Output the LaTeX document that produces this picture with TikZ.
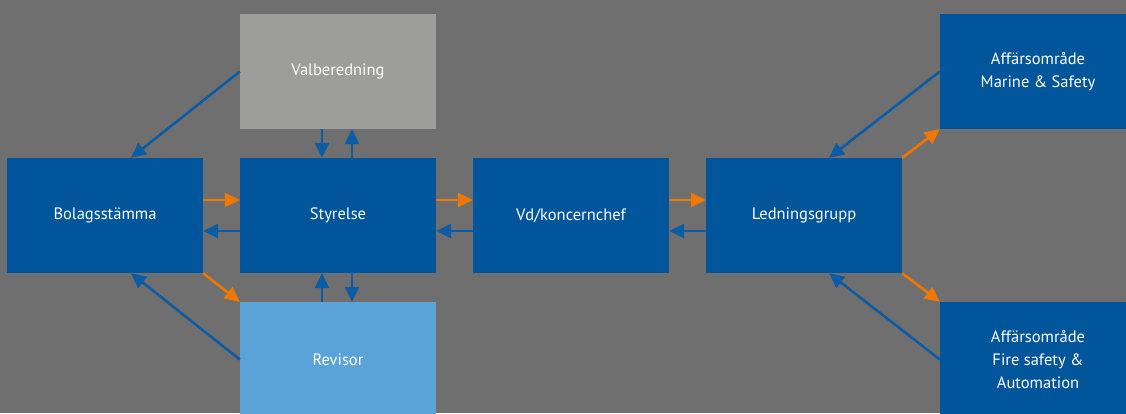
\documentclass[tikz,border=0pt]{standalone}
\usepackage{fontspec}
\setmainfont{PT Sans}
\usetikzlibrary{arrows.meta, positioning, calc}
\definecolor{orgbg}{HTML}{706F6F}
\definecolor{orgblue}{HTML}{00559B}
\definecolor{orggray}{HTML}{9D9D9B}
\definecolor{orglight}{HTML}{5BA2D8}
\definecolor{orgarrow}{HTML}{0A5CA5}
\definecolor{orgorange}{HTML}{F07800}

\begin{document}
\begin{tikzpicture}[
    x=1pt, y=-1pt,
    unit/.style={
        rectangle,
        minimum width=196pt,
        minimum height=115pt,
        inner sep=0pt,
        fill=#1,
        text=white,
        align=center,
        font=\fontsize{16.5}{23}\selectfont
    },
    link/.style={
        -{Triangle[length=15pt, width=14pt]},
        line width=2.6pt,
        #1
    }
]

% Background
\fill[orgbg] (0,0) rectangle (1126,413);
\useasboundingbox (0,0) rectangle (1126,413);

% Units
\node[unit=orgblue] (stamma) at (105,215.5) {Bolagsstämma};
\node[unit=orgblue] (styrelse) at (338,215.5) {Styrelse};
\node[unit=orgblue] (vd) at (571,215.5) {Vd/koncernchef};
\node[unit=orgblue] (ledning) at (804,215.5) {Ledningsgrupp};
\node[unit=orggray] (valb) at (338,71.5) {Valberedning};
\node[unit=orglight] (revisor) at (338,359.5) {Revisor};
\node[unit=orgblue] (marine) at (1038,71.5) {Affärsområde\\Marine \& Safety};
\node[unit=orgblue] (fire) at (1038,359.5) {Affärsområde\\Fire safety \&\\Automation};

% Horizontal links
\draw[link=orgorange] ([yshift=15.5pt]stamma.east) -- ([yshift=15.5pt]styrelse.west);
\draw[link=orgarrow] ([yshift=-15.5pt]styrelse.west) -- ([yshift=-15.5pt]stamma.east);
\draw[link=orgorange] ([yshift=15.5pt]styrelse.east) -- ([yshift=15.5pt]vd.west);
\draw[link=orgarrow] ([yshift=-15.5pt]vd.west) -- ([yshift=-15.5pt]styrelse.east);
\draw[link=orgorange] ([yshift=15.5pt]vd.east) -- ([yshift=15.5pt]ledning.west);
\draw[link=orgarrow] ([yshift=-15.5pt]ledning.west) -- ([yshift=-15.5pt]vd.east);

% Vertical links
\draw[link=orgarrow] ([xshift=-16pt]valb.south) -- ([xshift=-16pt]styrelse.north);
\draw[link=orgarrow] ([xshift=14pt]styrelse.north) -- ([xshift=14pt]valb.south);
\draw[link=orgarrow] ([xshift=-16pt]revisor.north) -- ([xshift=-16pt]styrelse.south);
\draw[link=orgarrow] ([xshift=14pt]styrelse.south) -- ([xshift=14pt]revisor.north);

% Diagonal links
\draw[link=orgarrow] (valb.west) -- ([xshift=26pt]stamma.north);
\draw[link=orgarrow] (revisor.west) -- ([xshift=26pt]stamma.south);
\draw[link=orgorange] (stamma.south east) -- (revisor.north west);
\draw[link=orgarrow] (marine.west) -- ([xshift=25pt]ledning.north);
\draw[link=orgarrow] (fire.west) -- ([xshift=25pt]ledning.south);
\draw[link=orgorange] (ledning.north east) -- (marine.south west);
\draw[link=orgorange] (ledning.south east) -- (fire.north west);

\end{tikzpicture}
\end{document}
